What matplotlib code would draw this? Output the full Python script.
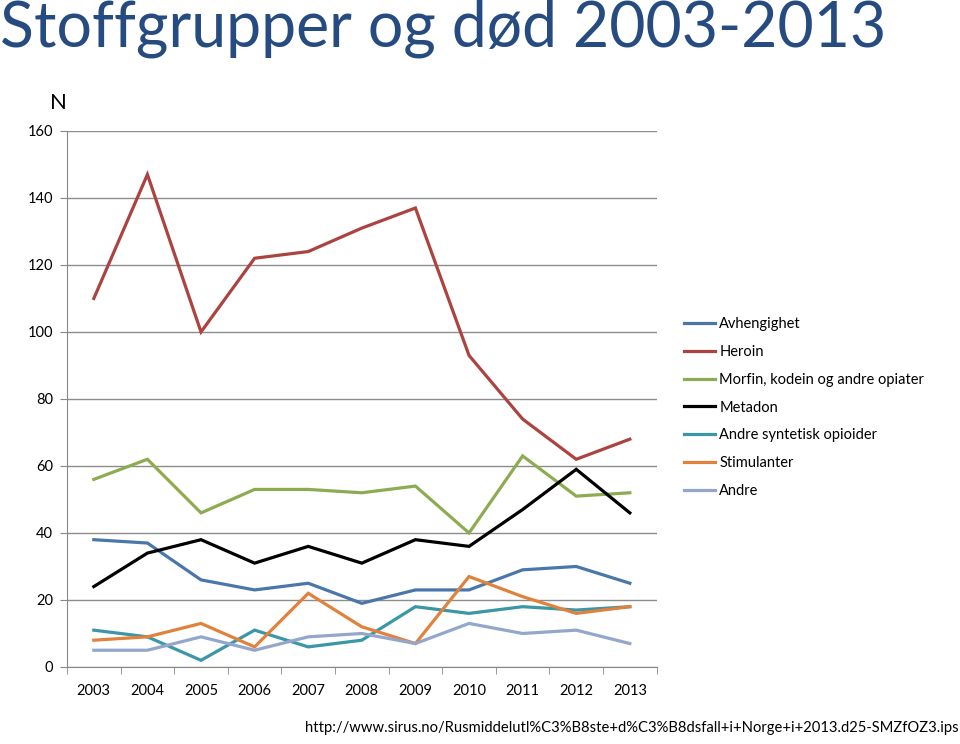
import matplotlib
matplotlib.use("Agg")
import matplotlib.pyplot as plt

plt.rcParams['font.family'] = ['Lato', 'DejaVu Sans']

years = ['2003', '2004', '2005', '2006', '2007', '2008', '2009', '2010', '2011', '2012', '2013']

avhengighet = [38, 37, 26, 23, 25, 19, 23, 23, 29, 30, 25]
heroin = [110, 147, 100, 122, 124, 131, 137, 93, 74, 62, 68]
morfin = [56, 62, 46, 53, 53, 52, 54, 40, 63, 51, 52]
metadon = [24, 34, 38, 31, 36, 31, 38, 36, 47, 59, 46]
andre_synt = [11, 9, 2, 11, 6, 8, 18, 16, 18, 17, 18]
stimulanter = [8, 9, 13, 6, 22, 12, 7, 27, 21, 16, 18]
andre = [5, 5, 9, 5, 9, 10, 7, 13, 10, 11, 7]

series = [
    ('Avhengighet', avhengighet, '#4a77aa'),
    ('Heroin', heroin, '#ab4340'),
    ('Morfin, kodein og andre opiater', morfin, '#8dac52'),
    ('Metadon', metadon, '#000000'),
    ('Andre syntetisk opioider', andre_synt, '#3b97a6'),
    ('Stimulanter', stimulanter, '#e0823c'),
    ('Andre', andre, '#93a7cb'),
]

fig = plt.figure(figsize=(9.6, 7.44), dpi=100)
ax = fig.add_axes([0.0698, 0.1035, 0.6142, 0.7205])

x = list(range(len(years)))
for name, vals, col in series:
    ax.plot(x, vals, color=col, lw=2.3, label=name, solid_joinstyle='miter')

ax.set_xlim(-0.5, len(years) - 0.5)
ax.set_ylim(0, 160)
ax.set_yticks(range(0, 161, 20))
ax.set_xticks(x)
ax.set_xticklabels(years)
ax.set_xticks([i - 0.5 for i in range(len(years) + 1)], minor=True)
ax.tick_params(axis='x', which='major', length=0, pad=12, labelsize=10.5)
ax.tick_params(axis='x', which='minor', length=5, color='#888888')
ax.tick_params(axis='y', length=5, color='#888888', labelsize=10.5, pad=5)
ax.grid(axis='y', color='#8c8c8c', lw=1)
ax.set_axisbelow(True)
for s in ['top', 'right']:
    ax.spines[s].set_visible(False)
for s in ['left', 'bottom']:
    ax.spines[s].set_color('#888888')

fig.legend(loc='upper left', bbox_to_anchor=(0.699, 0.591), frameon=False,
           fontsize=10.5, handlelength=2.1, handletextpad=0.3, labelspacing=0.94)

fig.text(0.0, 1.0, 'Stoffgrupper og død 2003-2013', color='#264b80',
         fontsize=45, va='top', ha='left')
fig.text(0.052, 0.862, 'N', fontsize=16, ha='left', va='center')
fig.text(0.318, 0.012, 'http://www.sirus.no/Rusmiddelutl%C3%B8ste+d%C3%B8dsfall+i+Norge+i+2013.d25-SMZfOZ3.ips',
         fontsize=10.6, ha='left', va='bottom')

fig.savefig('out.png', dpi=100)
